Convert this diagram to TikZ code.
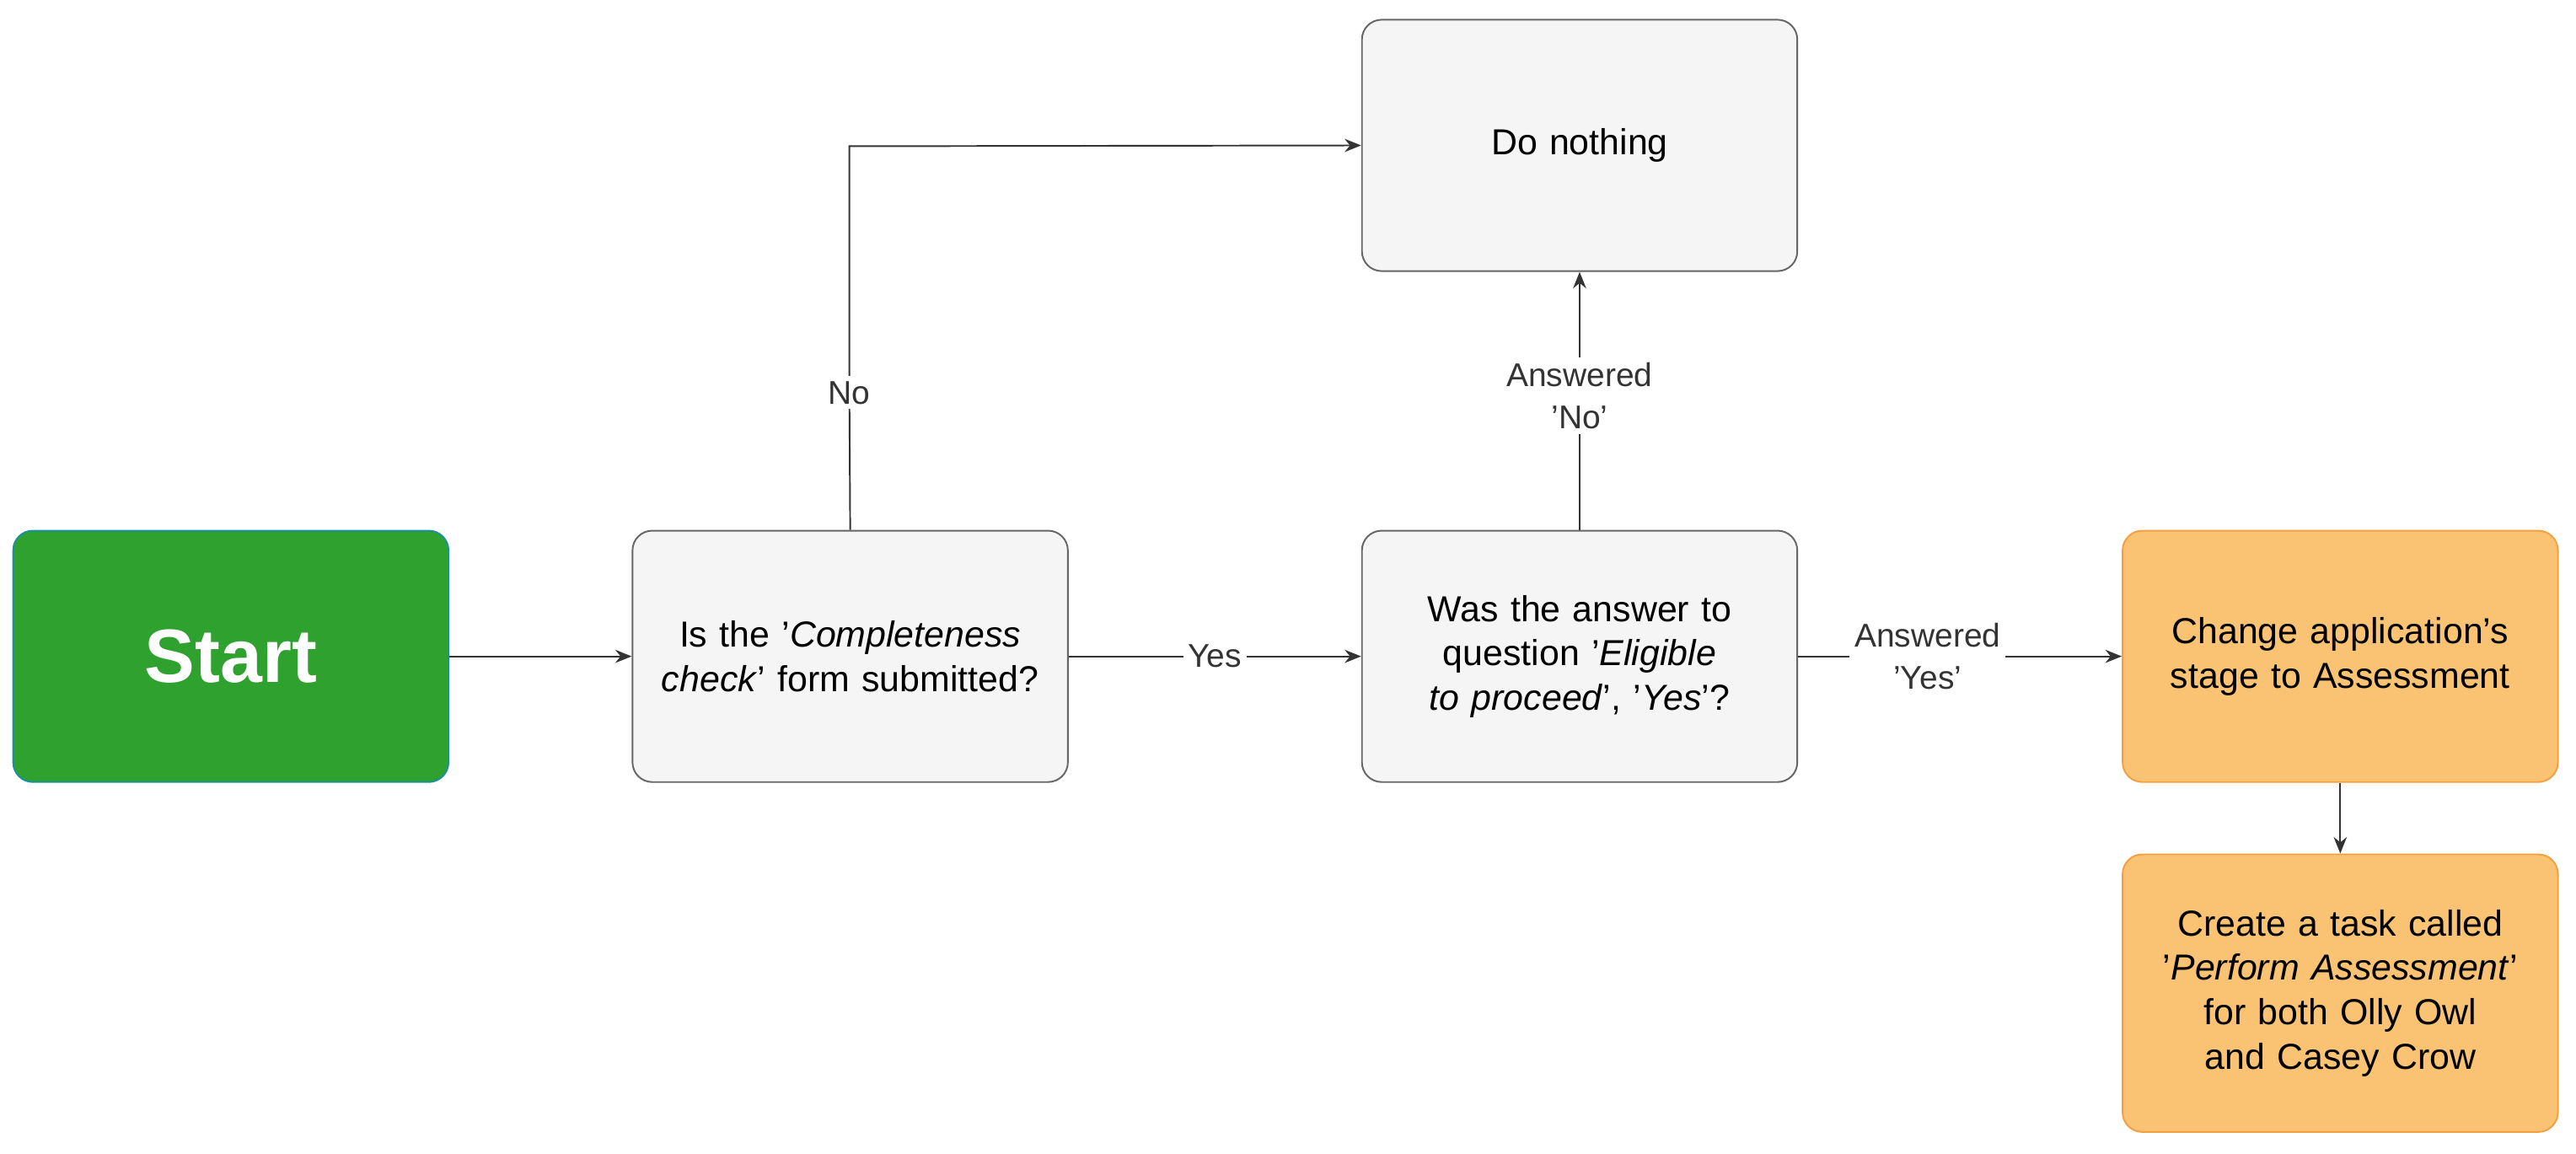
\documentclass[tikz,border=0pt]{standalone}
\usepackage{fontspec}
\setmainfont{Liberation Sans}
\usetikzlibrary{arrows.meta}
\definecolor{boxgray}{HTML}{F5F5F5}
\definecolor{linegray}{HTML}{666666}
\definecolor{startgreen}{HTML}{2EA12E}
\definecolor{startedge}{HTML}{1B8FA0}
\definecolor{stageorange}{HTML}{FAC373}
\definecolor{stageedge}{HTML}{F5A040}
\definecolor{arrowgray}{HTML}{333333}
\tikzset{
  box/.style={draw=linegray, fill=boxgray, rounded corners=12pt, line width=1pt,
    minimum width=265pt, minimum height=153pt, align=center, text width=245pt,
    font=\fontsize{22}{27}\selectfont, inner sep=0pt},
  startbox/.style={box, fill=startgreen, draw=startedge, text=white,
    font=\fontsize{46}{52}\selectfont\bfseries},
  stagebox/.style={box, fill=stageorange, draw=stageedge},
  flow/.style={draw=arrowgray, line width=1pt, -{Stealth[length=10pt,width=8pt]}},
  lbl/.style={fill=white, text=arrowgray, font=\fontsize{20}{26}\selectfont, align=center, inner sep=3pt}
}
\begin{document}
\begin{tikzpicture}[x=1pt,y=-1pt]
  \useasboundingbox (0,0) rectangle (1568,702);

  \node (start) at (140.5,399.5) [startbox] {Start};
  \node (check) at (517.5,399.5) [box] {Is the '\textit{Completeness check}' form submitted?};
  \node (nothing) at (961.5,88.5) [box] {Do nothing};
  \node (eligible) at (961.5,399.5) [box] {Was the answer to question '\textit{Eligible to proceed}', '\textit{Yes}'?};
  \node (stage) at (1424.5,399.5) [stagebox] {Change application's stage to Assessment};
  \node (task) at (1424.5,604.5) [stagebox, minimum height=169pt] {Create a task called '\textit{Perform Assessment}' for both Olly Owl and Casey Crow};

  \draw[flow] (start) -- (check);
  \draw[flow] (check) -- node[lbl] {Yes} (eligible);
  \draw[flow] (check.north) -- (517,239) node[lbl] {No} -- (517,89)
    [rounded corners=5pt] -- (nothing.west);
  \draw[flow] (eligible) -- node[lbl, pos=0.52] {Answered\\'No'} (nothing);
  \draw[flow] (eligible) -- node[lbl, pos=0.4] {Answered\\'Yes'} (stage);
  \draw[flow] (stage) -- (task);
\end{tikzpicture}
\end{document}
